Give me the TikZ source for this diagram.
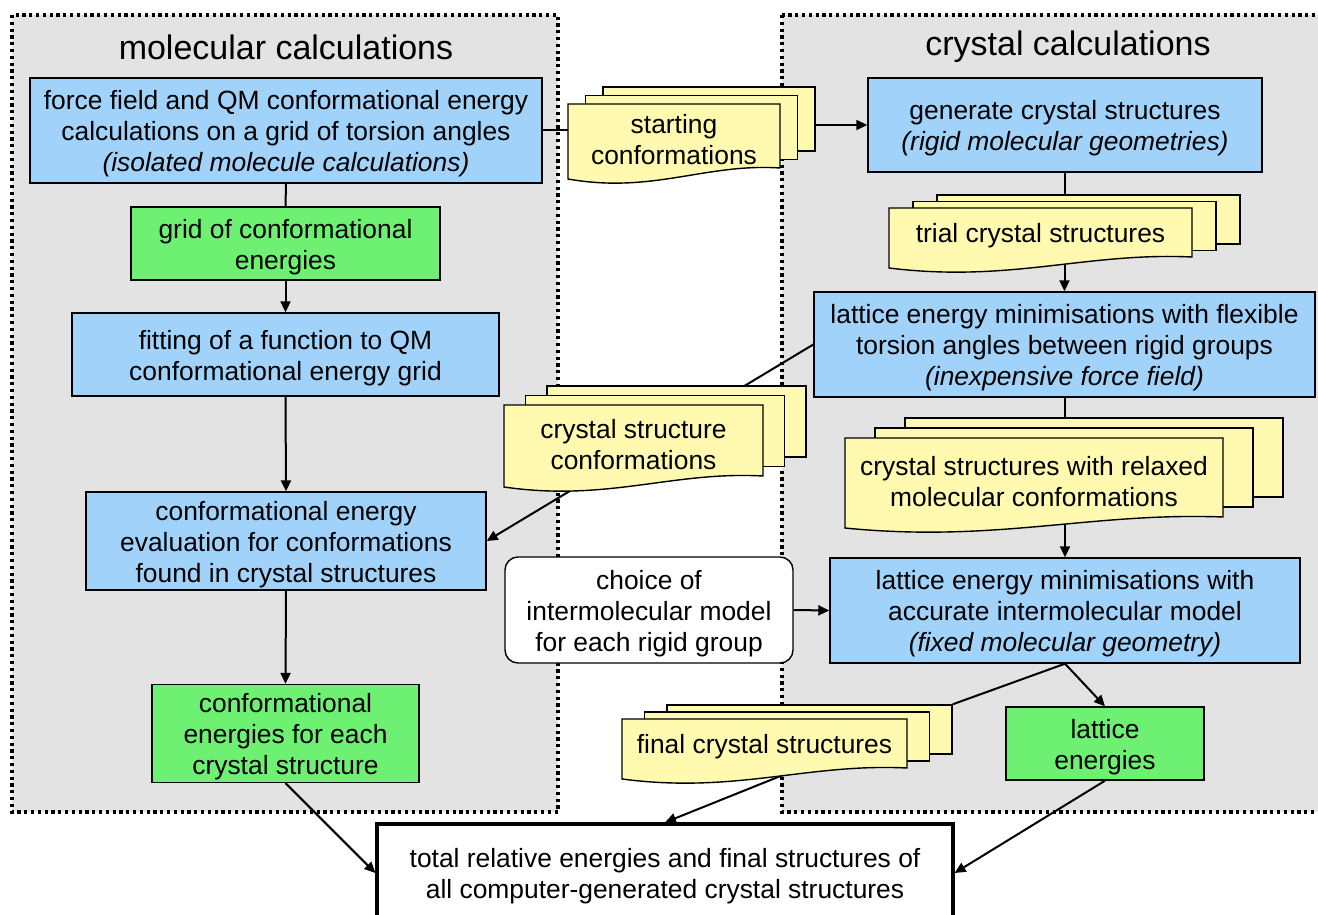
\documentclass[tikz,border=0pt]{standalone}
\usepackage{fontspec}
\setmainfont{Liberation Sans}
\usetikzlibrary{arrows.meta}
\definecolor{procblue}{RGB}{160,210,250}
\definecolor{datagreen}{RGB}{110,240,115}
\definecolor{sheetyellow}{RGB}{255,250,175}
\definecolor{areagray}{RGB}{227,227,227}
\pgfdeclarelayer{frames}
\pgfdeclarelayer{links}
\pgfsetlayers{frames,links,main}

% taller first line, sets the text a little lower in its box
\newcommand{\topline}{\rule{0pt}{13.2pt}}

% stack of three sheets: name, left, top, right, bottom, dx, dy, text
\newcommand{\docstack}[8]{%
  \foreach \k in {2,1}{
    \node[sheet, minimum width={(#4-#2)*0.5pt}, minimum height={(#5-#3)*0.5pt}]
      (#1-\k) at ({(#2+#4)/2+\k*#6},{(#3+#5)/2+\k*#7}) {};
  }
  \draw[sheet] (#2,#3) -- (#4,#3) -- (#4,#5)
    .. controls ({#4-0.35*(#4-#2)},{#5-5}) and ({#2+0.4*(#4-#2)},{#5+26}) .. (#2,{#5+11}) -- cycle;
  \node[doctext, minimum width={(#4-#2)*0.5pt}, minimum height={(#5-#3)*0.5pt}]
    (#1) at ({(#2+#4)/2},{(#3+#5)/2}) {\topline#8};
}

\begin{document}
\begin{tikzpicture}[x=0.5pt, y=-0.5pt,
  font=\fontsize{13.2}{15.5}\selectfont,
  area/.style={fill=areagray, draw, line width=1.6pt, dash pattern=on 1.6pt off 1.8pt},
  heading/.style={font=\fontsize{17}{20}\selectfont},
  box/.style={draw, line width=0.7pt, align=center, inner sep=1pt},
  procbox/.style={box, fill=procblue},
  databox/.style={box, fill=datagreen},
  optbox/.style={box, fill=white, rounded corners=6.5pt},
  sumbox/.style={box, fill=white, line width=1.6pt},
  sheet/.style={draw, fill=sheetyellow, line width=0.7pt, inner sep=0pt},
  doctext/.style={align=center, inner sep=0pt},
  link/.style={line width=1pt},
  flow/.style={link, -{Triangle[length=5.5pt, width=5pt]}}
]
  \useasboundingbox (0,0) rectangle (1318,915);
  \begin{pgfonlayer}{frames}
    \fill[white] (0,0) rectangle (1318,915);
    \draw[area] (12,15) rectangle (558,812);
    \draw[area] (782,15) rectangle (1326,812);
  \end{pgfonlayer}

  \node[heading] (molhead) at (286,47) {molecular calculations};
  \node[heading] (cryhead) at (1068,47) {crystal calculations};

  % molecular side
  \node[procbox, minimum width=256pt, minimum height=52.5pt] (ffqm) at (286,130.5)
    {\topline force field and QM conformational energy\\calculations on a grid of torsion angles\\\textit{(isolated molecule calculations)}};
  \node[databox, minimum width=154.5pt, minimum height=36.5pt] (grid) at (285.5,243.5)
    {\topline grid of conformational\\energies};
  \node[procbox, minimum width=213.5pt, minimum height=41.5pt] (fit) at (285.5,354.5)
    {\topline fitting of a function to QM\\conformational energy grid};
  \node[procbox, minimum width=200pt, minimum height=47pt] (eval) at (286,541)
    {\topline conformational energy\\evaluation for conformations\\found in crystal structures};
  \node[databox, minimum width=133.5pt, minimum height=48.5pt] (confen) at (285.5,733.5)
    {\topline conformational\\energies for each\\crystal structure};

  % crystal side
  \node[procbox, minimum width=197pt, minimum height=47pt] (gen) at (1065,125)
    {\topline generate crystal structures\\\textit{(rigid molecular geometries)}};
  \node[procbox, minimum width=250.5pt, minimum height=52.5pt] (flexmin) at (1064.5,344.5)
    {\topline lattice energy minimisations with flexible\\torsion angles between rigid groups\\\textit{(inexpensive force field)}};
  \node[procbox, minimum width=235pt, minimum height=52.5pt] (accmin) at (1065,610.5)
    {\topline lattice energy minimisations with\\accurate intermolecular model\\\textit{(fixed molecular geometry)}};
  \node[databox, minimum width=99pt, minimum height=36.5pt] (latt) at (1105,743.5)
    {\topline lattice\\energies};
  \node[optbox, minimum width=144pt, minimum height=53pt] (model) at (649,610)
    {\topline choice of\\intermolecular model\\for each rigid group};
  \node[sumbox, minimum width=288pt, minimum height=49pt] (total) at (665,873)
    {\topline total relative energies and final structures of\\all computer-generated crystal structures};

  % sheets
  \docstack{start}{568}{104}{780}{168}{17.5}{-8.5}{starting\\conformations}
  \docstack{trial}{889}{208}{1192}{257}{24}{-6.5}{trial crystal structures}
  \docstack{conf}{504}{405}{763}{476}{21.5}{-9.5}{crystal structure\\conformations}
  \docstack{relax}{845}{438}{1223}{517}{30}{-10}{crystal structures with relaxed\\molecular conformations}
  \docstack{final}{622}{719}{907}{768}{22.5}{-7}{final crystal structures}

  \begin{pgfonlayer}{links}
    \draw[link] (ffqm.east) -- (ffqm.east -| start.center);
    \draw[flow] (start-2.center |- gen.west) -- (gen.west);
    \draw[link] (ffqm.south) -- (grid.north);
    \draw[flow] (grid.south) -- (fit.north);
    \draw[flow] (fit.south) -- (eval.north);
    \draw[flow] (eval.south) -- (confen.north);
    \draw[link] (gen.south) -- (gen.south |- trial-2.north);
    \draw[flow] (flexmin.north |- trial.center) -- (flexmin.north);
    \draw[link] (flexmin.south) -- (flexmin.south |- relax-2.north);
    \draw[flow] (accmin.north |- relax.center) -- (accmin.north);
    \draw[flow] (flexmin.west) -- (eval.east);
    \draw[flow] (model.east) -- (accmin.west);
    \draw[link] (accmin.south) -- (final-2.north east);
    \draw[flow] (accmin.south) -- (latt.north);
    \draw[flow] (confen.south) -- (total.west);
    \draw[flow] ([xshift=17.5pt]final.south) -- (total.north);
    \draw[flow] (latt.south) -- (total.east);
  \end{pgfonlayer}
\end{tikzpicture}
\end{document}
